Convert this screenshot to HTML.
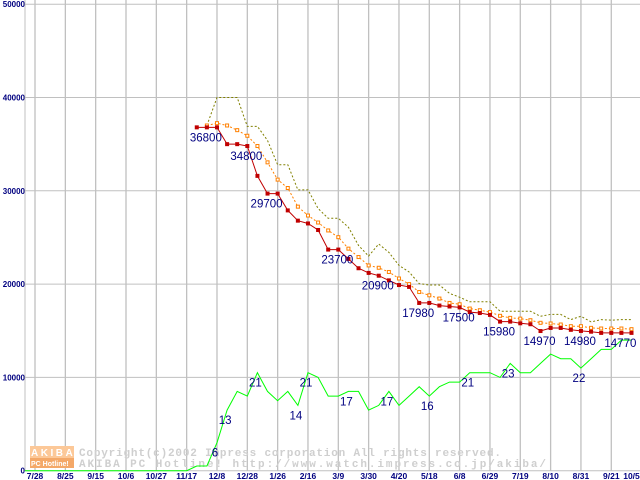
<!DOCTYPE html>
<html><head><meta charset="utf-8"><style>
body{margin:0;background:#fff}
svg{display:block}
text{font-family:"Liberation Sans",sans-serif}
</style></head><body>
<svg id="chart" width="640" height="480" viewBox="0 0 640 480" xmlns="http://www.w3.org/2000/svg">
<g id="grid"></g>
<g id="watermark">
 <rect x="30" y="446" width="44" height="12" fill="#fcc898"/>
 <rect x="30" y="458" width="44" height="10" fill="#f4a868"/>
 <text x="31" y="456" font-size="10" font-weight="bold" fill="#fff" letter-spacing="2.5">AKIBA</text>
 <text x="31" y="466" font-size="7" font-weight="bold" fill="#fff">PC Hotline!</text>
 <text x="79" y="456" font-size="11" font-weight="bold" fill="#cfcfcf" style="font-family:'Liberation Mono',monospace" textLength="422">Copyright(c)2002 Impress corporation All rights reserved.</text>
 <text x="79" y="467" font-size="11" font-weight="bold" fill="#cfcfcf" style="font-family:'Liberation Mono',monospace" textLength="467">AKIBA PC Hotline! http://www.watch.impress.co.jp/akiba/</text>
</g>
<g id="series"></g>
<g id="labels"></g>
</svg>
<script>
const xTickLabels = ["7/28","8/25","9/15","10/6","10/27","11/17","12/8","12/28","1/26","2/16","3/9","3/30","4/20","5/18","6/8","6/29","7/19","8/10","8/31","9/21","10/5"];
const yTicks = [0,10000,20000,30000,40000,50000];
const priceStart = 17;
const minPrice = [36800,36800,36800,35000,35000,34800,31600,29700,29700,27900,26800,26500,25800,23700,23700,22700,21700,21200,20900,20400,19900,19700,17980,17980,17700,17600,17500,17000,16900,16700,15980,15980,15800,15700,14970,15300,15300,15100,14980,14900,14770,14770,14770,14770];
const avgStart = 18;
const avgPrice = [37000,37250,37000,36500,35900,34800,33050,31200,30300,28300,27350,26600,25750,25030,23800,22900,22000,21750,21300,20600,20000,19150,18800,18450,17980,17840,17380,17200,17000,16600,16380,16300,16130,15850,15780,15670,15490,15490,15310,15240,15240,15240,15170];
const maxStart = 18;
const maxPrice = [37000,40000,40000,40000,36900,36900,35400,32800,32800,30100,30100,28100,27050,27050,26100,24150,23000,24300,23400,22000,21300,20050,19900,19900,19000,18600,18100,18100,18100,17100,17100,17100,17100,16550,16750,16750,16200,16550,15950,16200,16130,16200,16200];
const shopCount = [0,0,0,0,0,0,0,0,0,0,0,0,0,0,0,0,0,1,1,6,13,17,16,21,17,15,17,14,21,20,16,16,17,17,13,14,17,14,16,18,16,18,19,19,21,21,21,20,23,21,21,23,25,24,24,22,24,26,26,28,28];
const priceLabelIdx = [18,22,24,31,35,39,43,47,51,55,59];
const countLabelIdx = [19,20,23,27,28,32,36,40,44,48,55];
const countScale = 500;

const NS="http://www.w3.org/2000/svg";
const X=i=>24.9+10.11*i;
const Y=v=>470.7-v*0.00933;
function mk(tag,attrs,parent){const e=document.createElementNS(NS,tag);for(const k in attrs)e.setAttribute(k,attrs[k]);parent.appendChild(e);return e;}
const grid=document.getElementById('grid'),ser=document.getElementById('series'),lab=document.getElementById('labels');

yTicks.forEach(v=>{
 const l=mk('line',{x1:25,x2:640,y1:Y(v),y2:Y(v),stroke:'#c0c0c0','stroke-width':1},grid);
 
 
 const t=mk('text',{x:25,y:Y(v)+3,'text-anchor':'end','font-size':8,'font-weight':'bold',fill:'#000080'},grid);
 t.textContent=v;
 
 
});
const ax=mk('line',{x1:25,x2:25,y1:0,y2:471,stroke:'#c0c0c0'},grid);


xTickLabels.forEach((s,k)=>{
 const i = k<20 ? 1+3*k : 60;
 if(k<20){const l=mk('line',{x1:X(i),x2:X(i),y1:0,y2:471,stroke:'#c0c0c0','stroke-width':1.3},grid);
 
 }
 const t=mk('text',{x:X(i),y:479,'text-anchor':'middle','font-size':8.5,'font-weight':'bold',fill:'#000080'},grid);
 t.textContent=s;
 
 
});

function pts(arr,start,scale){return arr.map((v,j)=>X(start+j).toFixed(1)+','+Y(v*scale).toFixed(1)).join(' ');}
const g=mk('polyline',{points:pts(shopCount,0,countScale),fill:'none',stroke:'#00ff00','stroke-width':1},ser);


const mx=mk('polyline',{points:pts(maxPrice,maxStart,1),fill:'none',stroke:'#808000','stroke-width':1,'stroke-dasharray':'2,2'},ser);


const av=mk('polyline',{points:pts(avgPrice,avgStart,1),fill:'none',stroke:'#ff8000','stroke-width':1,'stroke-dasharray':'2,2'},ser);


avgPrice.forEach((v,j)=>{
 const r=mk('rect',{x:X(avgStart+j)-1.5,y:Y(v)-1.5,width:3,height:3,fill:'#fff',stroke:'#ff8000','stroke-width':1},ser);
 
 
});
const mn=mk('polyline',{points:pts(minPrice,priceStart,1),fill:'none',stroke:'#c00000','stroke-width':1},ser);


minPrice.forEach((v,j)=>{
 const r=mk('rect',{x:X(priceStart+j)-2,y:Y(v)-2,width:4,height:4,fill:'#c00000'},ser);
 
 
});
priceLabelIdx.forEach(i=>{
 const v=minPrice[i-priceStart];
 const t=mk('text',{x:X(i)-1,y:Y(v)+14,'text-anchor':'middle','font-size':11.5,fill:'#000080'},lab);
 t.textContent=v;
 
 
});
countLabelIdx.forEach(i=>{
 const v=shopCount[i];
 const t=mk('text',{x:X(i)-2,y:Y(v*countScale)+14,'text-anchor':'middle','font-size':11.5,fill:'#000080'},lab);
 t.textContent=v;
 
 
});
</script>
</body></html>
